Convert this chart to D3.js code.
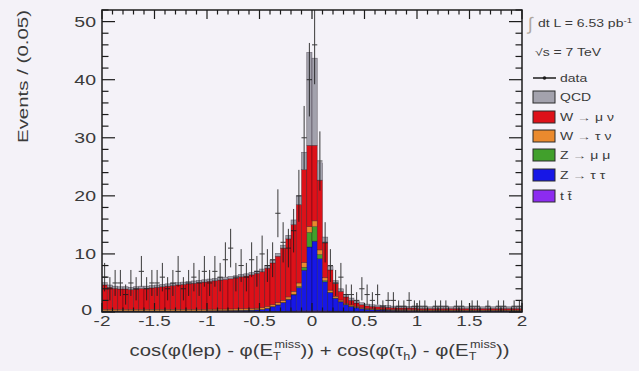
<!DOCTYPE html>
<html><head><meta charset="utf-8">
<script src="https://cdn.jsdelivr.net/npm/d3@7"></script>
<style>
body{margin:0;background:#f4f2f8;}
svg{display:block;font-family:"Liberation Sans",Arial,sans-serif;}
</style>
</head><body>
<svg id="c" width="639" height="371"></svg>
<script>
// ---- data ----
const xMin = -2, xMax = 2, nBins = 80;
const yMax = 52;
const xTickValues = [-2,-1.5,-1,-0.5,0,0.5,1,1.5,2];
const xTickLabels = ["-2","-1.5","-1","-0.5","0","0.5","1","1.5","2"];
const yTickValues = [0,10,20,30,40,50];
const yTickLabels = ["0","10","20","30","40","50"];

const ttbar = [0.1,0.1,0.1,0.1,0.1,0.1,0.1,0.1,0.1,0.1, 0.1,0.1,0.1,0.1,0.1,0.1,0.1,0.1,0.1,0.1,
  0.1,0.1,0.1,0.1,0.1,0.1,0.1,0.1,0.1,0.1, 0.1,0.1,0.1,0.1,0.1,0.15,0.15,0.2,0.2,0.2,
  0.2,0.2,0.2,0.15,0.15,0.15,0.15,0.15,0.15,0.15, 0.15,0.15,0.15,0.15,0.15,0.15,0.15,0.15,0.15,0.15,
  0.15,0.15,0.15,0.15,0.15,0.15,0.15,0.15,0.15,0.15, 0.15,0.15,0.15,0.15,0.15,0.15,0.15,0.15,0.15,0.15];
const ztautau = [0.05,0.05,0.05,0.05,0.05,0.05,0.05,0.05,0.05,0.05, 0.05,0.05,0.05,0.05,0.05,0.05,0.05,0.05,0.05,0.05,
  0.08,0.08,0.1,0.1,0.12,0.14,0.16,0.18,0.2,0.25, 0.3,0.5,0.8,1.1,1.5,2.0,2.8,4.0,7.0,11.0,
  12.0,9.0,5.0,3.2,2.2,1.6,1.1,0.8,0.6,0.4, 0.3,0.25,0.2,0.18,0.15,0.12,0.1,0.1,0.08,0.08,
  0.05,0.05,0.05,0.05,0.05,0.05,0.05,0.05,0.05,0.05, 0.05,0.05,0.05,0.05,0.05,0.05,0.05,0.05,0.05,0.05];
const zmumu = [0.05,0.05,0.05,0.05,0.05,0.05,0.05,0.05,0.05,0.05, 0.05,0.05,0.05,0.05,0.05,0.05,0.05,0.05,0.05,0.05,
  0.05,0.05,0.05,0.05,0.05,0.05,0.05,0.05,0.05,0.05, 0.05,0.05,0.05,0.05,0.05,0.05,0.1,0.2,0.5,2.5,
  2.5,0.7,0.2,0.05,0.05,0.05,0.05,0.05,0.05,0.05, 0.05,0.05,0.05,0.05,0.05,0.05,0.05,0.05,0.05,0.05,
  0.05,0.05,0.05,0.05,0.05,0.05,0.05,0.05,0.05,0.05, 0.05,0.05,0.05,0.05,0.05,0.05,0.05,0.05,0.05,0.05];
const wtaunu = [0.25,0.25,0.25,0.25,0.25,0.25,0.25,0.25,0.25,0.25, 0.25,0.25,0.25,0.25,0.25,0.25,0.25,0.25,0.25,0.25,
  0.25,0.25,0.25,0.25,0.25,0.25,0.25,0.25,0.25,0.25, 0.3,0.3,0.3,0.35,0.35,0.4,0.5,0.6,0.8,1.0,
  1.0,0.8,0.5,0.35,0.3,0.25,0.2,0.2,0.15,0.15, 0.1,0.1,0.1,0.1,0.1,0.1,0.1,0.1,0.1,0.1,
  0.1,0.1,0.1,0.1,0.1,0.1,0.1,0.1,0.1,0.1, 0.1,0.1,0.1,0.1,0.1,0.1,0.1,0.1,0.1,0.1];
const wmunu = [4.2,3.8,3.6,3.5,3.5,3.4,3.5,3.6,3.6,3.7, 3.8,3.9,4.0,4.1,4.2,4.3,4.4,4.5,4.6,4.7,
  4.8,4.9,5.0,5.1,5.2,5.3,5.5,5.6,5.8,6.0, 6.2,6.6,7.2,8.0,9.0,10.0,11.5,13.5,16.0,14.0,
  13.0,12.0,6.0,3.5,2.2,1.5,1.1,0.8,0.6,0.5, 0.45,0.4,0.4,0.35,0.35,0.3,0.3,0.3,0.3,0.3,
  0.25,0.25,0.25,0.25,0.25,0.25,0.25,0.25,0.25,0.25, 0.25,0.25,0.25,0.25,0.25,0.25,0.25,0.25,0.25,0.25];
const qcd = [0.4,0.4,0.4,0.4,0.4,0.4,0.4,0.4,0.4,0.4, 0.4,0.4,0.4,0.4,0.4,0.4,0.4,0.4,0.4,0.4,
  0.4,0.4,0.4,0.4,0.4,0.4,0.4,0.4,0.4,0.4, 0.45,0.45,0.5,0.5,0.5,0.6,0.8,1.5,3.0,16.0,
  15.0,3.0,1.0,0.6,0.5,0.45,0.4,0.4,0.35,0.35, 0.3,0.3,0.3,0.3,0.3,0.3,0.3,0.3,0.3,0.3,
  0.3,0.3,0.3,0.3,0.3,0.3,0.3,0.3,0.3,0.3, 0.3,0.3,0.3,0.3,0.3,0.3,0.3,0.3,0.3,0.3];
const data = [6,4,5,5,3,5,4,7,4,5, 5,6,4,5,7,4,5,6,5,7,
  5,7,6,9,11,6,8,6,9,7, 10,8,9,17,12,11,14,20,30,40,
  46,26,12,8,5,6,3,3,2,4, 3,2,3,1,2,2,1,1,2,1,
  1,1,0,1,1,1,0,1,1,0, 1,1,0,1,0,1,1,0,1,1];

const seriesKeys = ["ttbar","ztautau","zmumu","wtaunu","wmunu","qcd"];
const seriesValues = {ttbar, ztautau, zmumu, wtaunu, wmunu, qcd};
const colors = {qcd:"#a3a2ad", wmunu:"#dd1119", wtaunu:"#ea8a2e", zmumu:"#41a02c", ztautau:"#1717e6", ttbar:"#8c2cf0"};
const legendKeys = ["qcd","wmunu","wtaunu","zmumu","ztautau","ttbar"];
const legendLabels = {qcd:"QCD", wmunu:"W \u2192 \u03bc \u03bd", wtaunu:"W \u2192 \u03c4 \u03bd", zmumu:"Z \u2192 \u03bc \u03bc", ztautau:"Z \u2192 \u03c4 \u03c4", ttbar:"t t\u0304"};

// ---- layout ----
const L = 102, R = 522, T = 10, B = 312;
const svg = d3.select("#c");
const x = d3.scaleLinear().domain([xMin, xMax]).range([L, R]);
const y = d3.scaleLinear().domain([0, yMax]).range([B, T]);
const bw = (xMax - xMin) / nBins;
const bins = d3.range(nBins).map(i => {
  const row = {lo: xMin + i*bw, hi: xMin + (i+1)*bw, data: data[i]};
  seriesKeys.forEach(k => row[k] = seriesValues[k][i]);
  return row;
});
const stacked = d3.stack().keys(seriesKeys)(bins);

svg.append("defs").append("clipPath").attr("id","clip")
  .append("rect").attr("x",L).attr("y",T).attr("width",R-L).attr("height",B-T);

const plot = svg.append("g").attr("clip-path","url(#clip)");
stacked.forEach(layer => {
  plot.append("g").selectAll("rect").data(layer).join("rect")
    .attr("x", d => x(d.data.lo))
    .attr("width", d => x(d.data.hi) - x(d.data.lo))
    .attr("y", d => y(d[1]))
    .attr("height", d => Math.max(0, y(d[0]) - y(d[1])))
    .attr("fill", colors[layer.key])
    .attr("stroke", "rgba(20,10,20,0.5)")
    .attr("stroke-width", 0.6);
});

// data points
const dg = plot.append("g").attr("stroke","#1a1a1a").attr("stroke-width",1).attr("opacity",0.85);
bins.filter(d => d.data > 0).forEach(d => {
  const e = Math.sqrt(d.data), cx = x((d.lo+d.hi)/2);
  dg.append("line").attr("x1",cx).attr("x2",cx).attr("y1",y(d.data+e)).attr("y2",y(Math.max(0,d.data-e)));
  dg.append("line").attr("x1",x(d.lo)).attr("x2",x(d.hi)).attr("y1",y(d.data)).attr("y2",y(d.data));
});

// frame
svg.append("rect").attr("x",L).attr("y",T).attr("width",R-L).attr("height",B-T)
  .attr("fill","none").attr("stroke","#1c1c1c").attr("stroke-width",1.5);

// ticks
const tk = svg.append("g").attr("stroke","#1c1c1c").attr("stroke-width",1.2);
const xMinor = d3.range(-20, 21).map(v => v/10);
xMinor.forEach(v => {
  const major = Math.abs(v*2 - Math.round(v*2)) < 1e-6;
  const len = major ? 9 : 4.5;
  tk.append("line").attr("x1",x(v)).attr("x2",x(v)).attr("y1",B).attr("y2",B-len);
  tk.append("line").attr("x1",x(v)).attr("x2",x(v)).attr("y1",T).attr("y2",T+len);
});
const yMinor = d3.range(0, 53, 2);
yMinor.forEach(v => {
  const major = v % 10 === 0;
  const len = major ? 13 : 6.5;
  tk.append("line").attr("x1",L).attr("x2",L+len).attr("y1",y(v)).attr("y2",y(v));
  tk.append("line").attr("x1",R).attr("x2",R-len).attr("y1",y(v)).attr("y2",y(v));
});

// tick labels
const txtCol = "#3a3a3a";
xTickValues.forEach((v,i) => {
  svg.append("text").attr("transform",`translate(${x(v)},326) scale(1.35,1)`)
    .attr("text-anchor","middle").attr("font-size",14).attr("fill",txtCol).text(xTickLabels[i]);
});
yTickValues.forEach((v,i) => {
  const yy = v === 0 ? y(v) + 3 : y(v) + 5.5;
  const xx = v === 0 ? 92 : 96;
  svg.append("text").attr("transform",`translate(${xx},${yy}) scale(1.3,1)`)
    .attr("text-anchor","end").attr("font-size",15).attr("fill",txtCol).text(yTickLabels[i]);
});

// axis titles
svg.append("text").attr("transform","translate(28,10) rotate(-90)")
  .attr("text-anchor","end").attr("font-size",14).attr("fill",txtCol)
  .attr("textLength",133).attr("lengthAdjust","spacingAndGlyphs").text("Events / (0.05)");

const xt = svg.append("text").attr("font-size",16).attr("fill",txtCol);
function addE(t){
  t.append("tspan").text("E");
  t.append("tspan").attr("font-size",10).attr("dy",4).text("T");
  t.append("tspan").attr("font-size",10).attr("dx",-5).attr("dy",-12).text("miss");
}
xt.append("tspan").text("cos(\u03c6(lep) - \u03c6(");
addE(xt);
xt.append("tspan").attr("dy",8).text(")) + cos(\u03c6(\u03c4");
xt.append("tspan").attr("font-size",10).attr("dy",4).text("h");
xt.append("tspan").attr("dy",-4).text(") - \u03c6(");
addE(xt);
xt.append("tspan").attr("dy",8).text("))");
const w0 = xt.node().getComputedTextLength();
const sx = 393 / w0;
xt.attr("transform",`translate(${326 - 393/2},356) scale(${sx},1)`);

// legend
const lg = svg.append("g").attr("fill",txtCol);
lg.append("text").attr("x",528).attr("y",30).attr("font-size",18).attr("fill","#b0a8a0").text("\u222b");
const t1 = lg.append("text").attr("transform","translate(538,27) scale(1.4,1)").attr("font-size",10);
t1.append("tspan").text("dt L = 6.53 pb");
t1.append("tspan").attr("font-size",7).attr("dy",-4).text("-1");
lg.append("text").attr("transform","translate(535,56) scale(1.4,1)").attr("font-size",10).text("\u221as = 7 TeV");
lg.append("line").attr("x1",533).attr("x2",556).attr("y1",78).attr("y2",78).attr("stroke","#1c1c1c").attr("stroke-width",1.5);
lg.append("circle").attr("cx",544.5).attr("cy",78).attr("r",1.8).attr("fill","#1c1c1c");
lg.append("text").attr("transform","translate(560,82) scale(1.4,1)").attr("font-size",10).text("data");
const rowY = [97,117,136,155,175,196];
legendKeys.forEach((k,i) => {
  lg.append("rect").attr("x",533).attr("y",rowY[i]-6).attr("width",22).attr("height",12)
    .attr("fill",colors[k]).attr("stroke","#2a2a2a").attr("stroke-width",1);
  lg.append("text").attr("transform",`translate(560,${rowY[i]+4}) scale(1.4,1)`).attr("font-size",10).text(legendLabels[k]);
});
</script>
</body></html>
